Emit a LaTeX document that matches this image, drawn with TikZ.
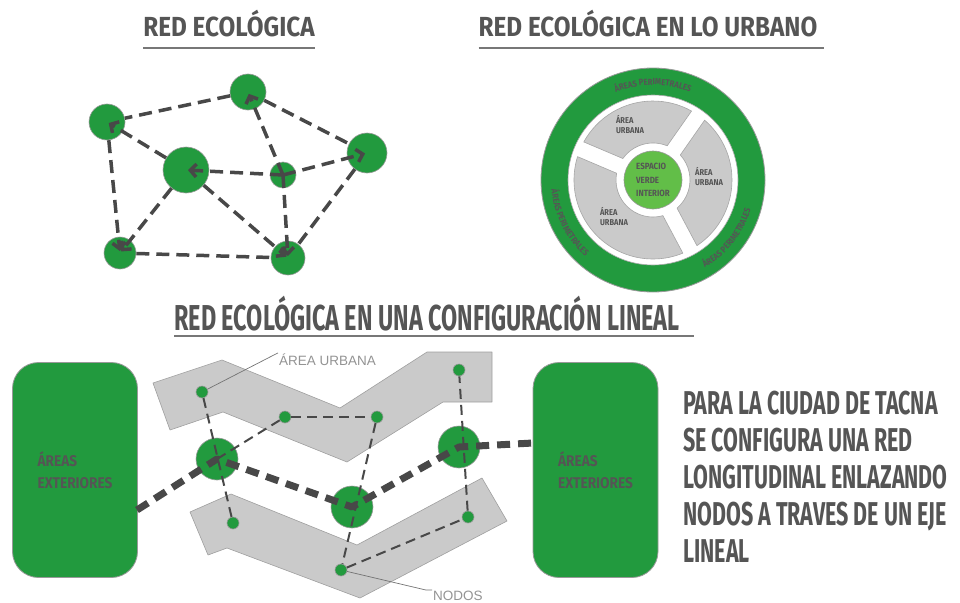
\documentclass[tikz,border=0pt]{standalone}
\usepackage{fontspec}
\setmainfont{Liberation Sans}
\newfontfamily\headfont[FakeStretch=0.88]{Fira Sans}
\newfontfamily\narrowfont[FakeStretch=0.65]{Fira Sans}
\usetikzlibrary{arrows.meta,decorations.text}
\definecolor{leaf}{RGB}{34,154,62}
\definecolor{lightleaf}{RGB}{98,190,72}
\definecolor{ink}{RGB}{85,85,85}
\definecolor{block}{RGB}{202,202,202}
\definecolor{edge}{RGB}{72,72,72}
\newcommand\ringfont{\headfont\bfseries\fontsize{8.8}{9}\selectfont\color{ink}}
\tikzset{
  title/.style={font=\headfont\bfseries\fontsize{27.6}{30}\selectfont,text=ink,inner sep=0pt,anchor=base},
  bigtitle/.style={font=\narrowfont\bfseries\fontsize{36}{40}\selectfont,text=ink,inner sep=0pt,anchor=base},
  rule/.style={draw=ink!80,line width=1.4pt},
  spot/.style={circle,fill=leaf,draw=gray!80,line width=0.6pt,inner sep=0pt},
  link/.style={draw=edge,line width=3.5pt,dash pattern=on 13pt off 7pt},
  tip/.style={link,-{Straight Barb[length=6pt,width=13pt]},shorten >=2pt},
  fine/.style={draw=edge,line width=2pt,dash pattern=on 10pt off 6pt},
  axis/.style={draw=edge,line width=7pt,dash pattern=on 13pt off 8pt},
  block/.style={fill=block,draw=gray!75,line width=0.6pt},
  sector/.style={fill=block,draw=gray!70,line width=0.6pt},
  small/.style={font=\headfont\bfseries\fontsize{8.5}{10}\selectfont,text=ink,align=left,inner sep=0pt},
  outer/.style={fill=leaf,draw=gray!80,line width=0.8pt,rounded corners=26pt,
    font=\headfont\bfseries\fontsize{15.5}{22}\selectfont,text=ink,align=left},
  tag/.style={font=\fontsize{13.5}{15}\selectfont,text=gray!85,inner sep=1pt},
  leader/.style={draw=gray!90!black,line width=0.7pt},
  para/.style={font=\narrowfont\bfseries\fontsize{33}{37}\selectfont,text=ink,align=left,inner sep=0pt}
}
\begin{document}
\begin{tikzpicture}[x=1pt,y=-1pt,line cap=butt,line join=round]
\useasboundingbox (0,0) rectangle (960,602);

% titles
\node[title] (t1) at (229,37) {RED ECOLÓGICA};
\node[title] (t2) at (648,37) {RED ECOLÓGICA EN LO URBANO};
\node[bigtitle] (t3) at (427,330) {RED ECOLÓGICA EN UNA CONFIGURACIÓN LINEAL};
\draw[rule] ([yshift=-11pt]t1.base west) -- ([yshift=-11pt]t1.base east);
\draw[rule] ([yshift=-11pt]t2.base west) -- ([yshift=-11pt,xshift=6pt]t2.base east);
\draw[rule] ([yshift=-6pt]t3.base west) -- ([yshift=-6pt,xshift=14pt]t3.base east);

% red ecologica
\node[spot,minimum size=36pt] (n1) at (107,122) {};
\node[spot,minimum size=36pt] (n2) at (248,92) {};
\node[spot,minimum size=46pt] (n3) at (186,170) {};
\node[spot,minimum size=26pt] (n4) at (283,175) {};
\node[spot,minimum size=40pt] (n5) at (367,153) {};
\node[spot,minimum size=32pt] (n6) at (120,253) {};
\node[spot,minimum size=34pt] (n7) at (288,258) {};
\draw[link] (n2) -- (n1);
\draw[link] (n2) -- (n5);
\draw[link] (n6) -- (n7);
\draw[link] (n5) -- (n7);
\draw[tip] (n3) -- (n1.center);
\draw[tip] (n1) -- (n6.center);
\draw[tip] (n3) -- (n6.center);
\draw[tip] (n3) -- (n7.center);
\draw[tip] (n4.center) -- (n2.center);
\draw[tip] (n4.center) -- (n7.center);
\draw[tip] (n4.center) -- (n5.center);
\draw[tip] (n4.center) -- (n3.center);

% red ecologica en lo urbano
\begin{scope}[shift={(653,180)}]
  \draw[fill=leaf,draw=gray!80,line width=0.8pt] (0,0) circle (112);
  \draw[fill=white,draw=gray!70,line width=0.6pt] (0,0) circle (85);
  \foreach \a/\b in {55/157,157/298,298/415}
    \draw[sector] (-\a-5.8:79) arc[start angle=-\a-5.8,end angle=-\b+5.8,radius=79]
      -- (-\b+12.5:37) arc[start angle=-\b+12.5,end angle=-\a-12.5,radius=37] -- cycle;
  \node[spot,fill=lightleaf,minimum size=58pt,font=\headfont\bfseries\fontsize{9}{13.5}\selectfont,
    text=ink,align=left] (core) at (0,0) {ESPACIO\\VERDE\\INTERIOR};
  \path[decorate,decoration={text along path,text align=center,
    text={|\ringfont|ÁREAS PERIMETRALES}}] (-118:95) arc[start angle=-118,end angle=-62,radius=95];
  \path[decorate,decoration={text along path,text align=center,
    text={|\ringfont|ÁREAS PERIMETRALES}}] (-176:102) arc[start angle=-176,end angle=-238,radius=102];
  \path[decorate,decoration={text along path,text align=center,
    text={|\ringfont|ÁREAS PERIMETRALES}}] (-290:102) arc[start angle=-290,end angle=-354,radius=102];
\end{scope}
\node[small] (s1) at (630,125) {ÁREA\\URBANA};
\node[small] (s2) at (709,177) {ÁREA\\URBANA};
\node[small] (s3) at (614,217) {ÁREA\\URBANA};

% configuracion lineal
\draw[block] (153,383) -- (222,360) -- (340,408) -- (427,352) -- (492,352) -- (492,402)
  -- (443,402) -- (347,462) -- (223,412) -- (170,430) -- cycle;
\draw[block] (190,512) -- (231,494) -- (357,545) -- (482,478) -- (507,521) -- (360,598)
  -- (227,548) -- (208,555) -- cycle;
\node[outer,minimum width=125pt,minimum height=215pt] (extL) at (75,470) {ÁREAS\\EXTERIORES};
\node[outer,minimum width=125pt,minimum height=215pt] (extR) at (595.5,470) {ÁREAS\\EXTERIORES};
\coordinate (axL) at (137,510);
\coordinate (axR) at (533,443);

\node[spot,minimum size=42pt] (B1) at (217,459) {};
\node[spot,minimum size=42pt] (B2) at (352,507) {};
\node[spot,minimum size=42pt] (B3) at (459,447) {};
\node[spot,minimum size=12pt] (a1) at (202,392) {};
\node[spot,minimum size=12pt] (a2) at (285,417) {};
\node[spot,minimum size=12pt] (a3) at (377,417) {};
\node[spot,minimum size=12pt] (a4) at (459,370) {};
\node[spot,minimum size=12pt] (b1) at (233,523) {};
\node[spot,minimum size=12pt] (b2) at (468,517) {};
\node[spot,minimum size=12pt] (b3) at (341,570) {};

\draw[fine] (a1) -- (b1);
\draw[fine] (B1.center) -- (a2);
\draw[fine] (a2) -- (a3);
\draw[fine] (a3) -- (b3);
\draw[fine] (b3) -- (b2);
\draw[fine] (b2) -- (a4);
\draw[axis] (axL) -- (B1.center) -- (B2.center) -- (B3.center) -- (axR);

\node[tag,anchor=west] (lblU) at (278,360) {ÁREA URBANA};
\node[tag,anchor=west] (lblN) at (432,596) {NODOS};
\draw[leader] (lblU.north west) -- (a1);
\draw[leader] (b3) -- ([xshift=-6pt]lblN.north west) -- (lblN.north west);

\node[para,anchor=north west] (note) at (683,391)
  {PARA LA CIUDAD DE TACNA\\SE CONFIGURA UNA RED\\LONGITUDINAL ENLAZANDO\\NODOS A TRAVES DE UN EJE\\LINEAL};
\end{tikzpicture}
\end{document}
